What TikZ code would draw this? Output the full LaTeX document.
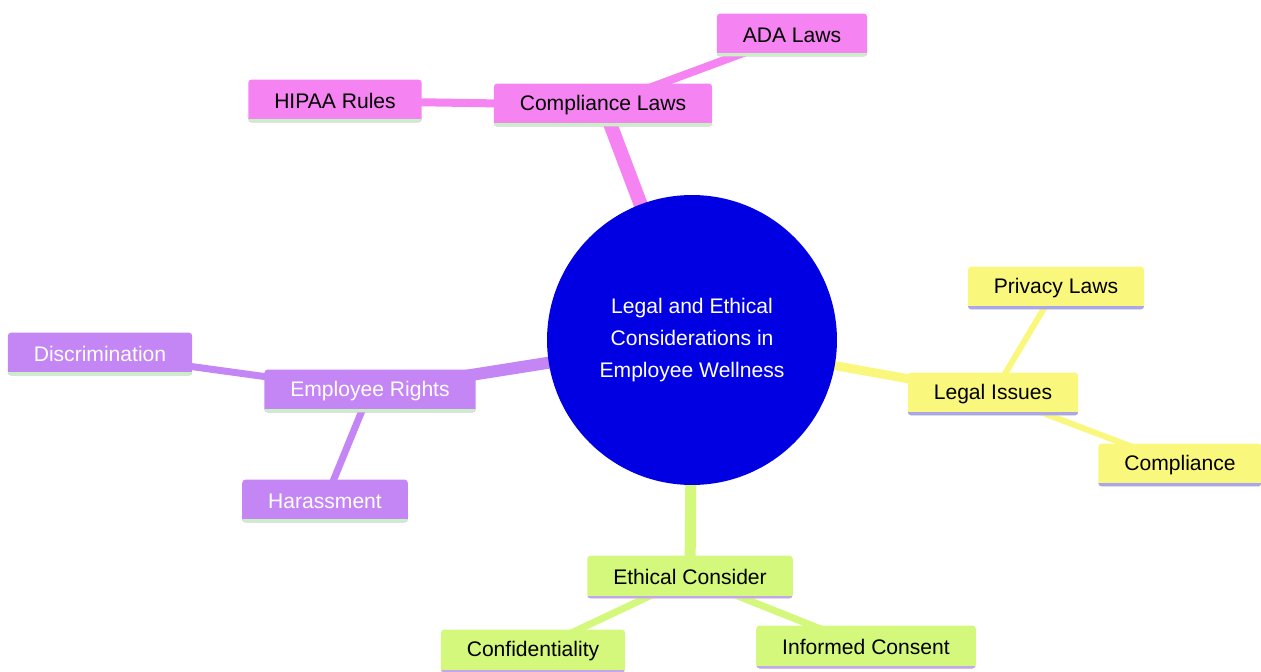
\documentclass[tikz,border=0pt]{standalone}
\usepackage{fontspec}
\setmainfont{Liberation Sans}
\usetikzlibrary{backgrounds}

\definecolor{raiz}{HTML}{0000E2}
\definecolor{rosa}{HTML}{F683F2}
\definecolor{amarillo}{HTML}{FAF87C}
\definecolor{verde}{HTML}{D4F87C}
\definecolor{lila}{HTML}{C485F5}
\definecolor{bordeverde}{HTML}{C9EFC4}
\definecolor{bordeazul}{HTML}{A9A6EE}
\definecolor{bordelila}{HTML}{C3A6EE}

\begin{document}
\begin{tikzpicture}[x=0.02cm, y=-0.02cm,
    every node/.style={font=\fontsize{12}{18}\selectfont},
    hoja/.style 2 args={rectangle, rounded corners=2pt, fill=#1,
      inner xsep=0.52cm, inner ysep=0pt, minimum height=0.86cm,
      path picture={\draw[#2, line width=0.12cm]
        (path picture bounding box.south west) -- (path picture bounding box.south east);}},
    rama/.style={line cap=butt}]
            \useasboundingbox (0,0) rectangle (1261,672);

            % Nodos
            \node[circle, fill=raiz, minimum size=5.8cm, text=white, align=center] (raiz) at (692,340)
                {Legal and Ethical\\Considerations in\\Employee Wellness};

            \node[hoja={rosa}{bordeverde}] (leyes) at (603,105) {Compliance Laws};
            \node[hoja={rosa}{bordeverde}] (hipaa) at (335,101) {HIPAA Rules};
            \node[hoja={rosa}{bordeverde}] (ada) at (792,35) {ADA Laws};

            \node[hoja={amarillo}{bordeazul}] (legal) at (993,394) {Legal Issues};
            \node[hoja={amarillo}{bordeazul}] (privacidad) at (1056,288) {Privacy Laws};
            \node[hoja={amarillo}{bordeazul}] (cumplimiento) at (1180,465) {Compliance};

            \node[hoja={verde}{bordelila}] (etica) at (690,577) {Ethical Consider};
            \node[hoja={verde}{bordelila}] (confidencial) at (533,651) {Confidentiality};
            \node[hoja={verde}{bordelila}] (consentimiento) at (866,647) {Informed Consent};

            \node[hoja={lila}{bordeverde}, text=white] (derechos) at (370,391) {Employee Rights};
            \node[hoja={lila}{bordeverde}, text=white] (discriminacion) at (100,354) {Discrimination};
            \node[hoja={lila}{bordeverde}, text=white] (acoso) at (325,501) {Harassment};

            % Aristas
            \begin{scope}[on background layer, rama]
              \draw[rosa, line width=0.28cm] (raiz.center) -- (leyes.center);
              \draw[rosa, line width=0.16cm] (leyes.center) -- (hipaa.center);
              \draw[rosa, line width=0.16cm] (leyes.center) -- (ada.center);

              \draw[amarillo, line width=0.18cm] (raiz.center) -- (legal.center);
              \draw[amarillo, line width=0.12cm] (legal.center) -- (privacidad.center);
              \draw[amarillo, line width=0.12cm] (legal.center) -- (cumplimiento.center);

              \draw[verde, line width=0.22cm] (raiz.center) -- (etica.center);
              \draw[verde, line width=0.14cm] (etica.center) -- (confidencial.center);
              \draw[verde, line width=0.14cm] (etica.center) -- (consentimiento.center);

              \draw[lila, line width=0.24cm] (raiz.center) -- (derechos.center);
              \draw[lila, line width=0.14cm] (derechos.center) -- (discriminacion.center);
              \draw[lila, line width=0.14cm] (derechos.center) -- (acoso.center);
            \end{scope}
          \end{tikzpicture}
\end{document}
